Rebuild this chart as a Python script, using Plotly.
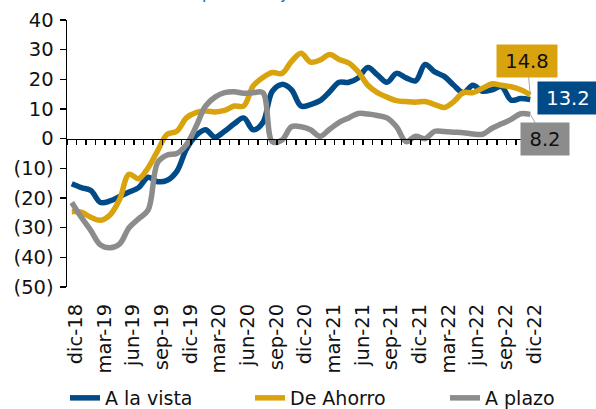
import plotly.graph_objects as go

months = [
    "dic-18", "ene-19", "feb-19", "mar-19", "abr-19", "may-19", "jun-19", "jul-19", "ago-19", "sep-19", "oct-19", "nov-19",
    "dic-19", "ene-20", "feb-20", "mar-20", "abr-20", "may-20", "jun-20", "jul-20", "ago-20", "sep-20", "oct-20", "nov-20",
    "dic-20", "ene-21", "feb-21", "mar-21", "abr-21", "may-21", "jun-21", "jul-21", "ago-21", "sep-21", "oct-21", "nov-21",
    "dic-21", "ene-22", "feb-22", "mar-22", "abr-22", "may-22", "jun-22", "jul-22", "ago-22", "sep-22", "oct-22", "nov-22",
    "dic-22",
]
tick_labels = ["dic-18", "mar-19", "jun-19", "sep-19", "dic-19", "mar-20", "jun-20", "sep-20", "dic-20",
               "mar-21", "jun-21", "sep-21", "dic-21", "mar-22", "jun-22", "sep-22", "dic-22"]

a_la_vista = [
    -15.2, -16.5, -17.5, -21.5, -21.0, -19.5, -18.0, -16.5, -13.0, -14.5, -14.0, -11.0,
    -3.5, 1.0, 3.0, 0.5, 2.5, 5.0, 7.0, 3.0, 5.4, 16.0, 18.3, 16.5,
    11.0, 11.5, 12.8, 15.8, 19.0, 19.0, 20.5, 24.0, 21.5, 19.0, 22.0, 20.5,
    19.5, 25.0, 22.5, 21.0, 18.0, 15.5, 18.0, 16.0, 16.5, 17.5, 13.0, 13.5,
    13.2,
]
de_ahorro = [
    -24.6, -24.8, -26.5, -27.5, -25.7, -20.5, -12.0, -13.5, -9.8, -4.0, 1.5, 2.5,
    7.0, 8.8, 9.3, 9.0, 9.5, 11.0, 11.0, 17.8, 20.6, 22.3, 22.0, 26.0,
    28.8, 25.8, 26.5, 28.4, 26.7, 25.5, 22.5, 18.0, 15.5, 14.0, 12.8, 12.5,
    12.3, 12.5, 11.5, 10.5, 12.5, 15.5, 15.5, 17.0, 18.5, 18.0, 17.5, 16.5,
    14.8,
]
a_plazo = [
    -21.5, -26.5, -31.0, -35.8, -36.8, -35.5, -30.0, -27.0, -24.0, -8.0, -5.5, -5.0,
    -2.0, 4.0, 11.0, 14.0, 15.5, 15.8, 15.3, 15.5, 15.5, -1.0, -0.5, 4.0,
    4.0, 3.0, 0.8, 3.2, 5.5, 7.0, 8.5, 8.3, 7.8, 7.0, 4.0, -1.0,
    0.8, 0.0, 2.5, 2.4, 2.2, 2.0, 1.6, 1.5, 3.5, 5.0, 6.5, 8.4,
    8.2,
]

y_ticks = [-50, -40, -30, -20, -10, 0, 10, 20, 30, 40]
y_ticktext = [f"({abs(v)})" if v < 0 else str(v) for v in y_ticks]

subtitle = "(Variación interanual, porcentaje)"

series = [
    ("A la vista", a_la_vista, "#004B87", "legend"),
    ("De Ahorro", de_ahorro, "#D9A30E", "legend2"),
    ("A plazo", a_plazo, "#8C8C8C", "legend3"),
]

FONT = "DejaVu Sans"
TXT = "#111111"
fig = go.Figure()
for name, vals, color, leg in series:
    fig.add_trace(go.Scatter(
        x=months, y=vals, name=name, mode="lines",
        line=dict(color=color, width=5.5, shape="spline", smoothing=1.0),
        legend=leg, hoverinfo="skip",
    ))

# invisible trace to carry the zero-line axis with monthly ticks
fig.add_trace(go.Scatter(x=months, y=a_la_vista, xaxis="x2", mode="lines",
                         line=dict(width=0, color="rgba(0,0,0,0)"), showlegend=False,
                         hoverinfo="skip"))

# subtitle, mostly above the visible page as in the reference crop
fig.add_annotation(xref="paper", yref="paper", x=(1 - 67) / 468, y=(287 - 4.0) / 267,
                   xanchor="left", yanchor="bottom", showarrow=False, text=subtitle,
                   font=dict(family=FONT, size=18, color="#2E74B5"))

# end labels
fig.add_annotation(x=months[-1], y=de_ahorro[-1], text=f"{de_ahorro[-1]:.1f}",
                   showarrow=True, arrowhead=0, arrowwidth=1, arrowcolor="#A6A6A6",
                   ax=-3, ay=-34, bgcolor="#D9A30E", width=58, height=30,
                   font=dict(family=FONT, size=19.5, color=TXT))
fig.add_annotation(x=months[-1], y=a_la_vista[-1], text=f"{a_la_vista[-1]:.1f}",
                   showarrow=False, xshift=38, yshift=2, bgcolor="#004B87", width=58, height=30,
                   font=dict(family=FONT, size=19.5, color="#FFFFFF"))
fig.add_annotation(x=months[-1], y=a_plazo[-1], text=f"{a_plazo[-1]:.1f}",
                   showarrow=True, arrowhead=0, arrowwidth=1, arrowcolor="#A6A6A6",
                   ax=15, ay=25, bgcolor="#8C8C8C", width=46, height=30,
                   font=dict(family=FONT, size=19.5, color=TXT))

legend_common = dict(orientation="h", yref="container", xref="container",
                     yanchor="middle", y=1 - 398 / 409, xanchor="left",
                     bgcolor="rgba(0,0,0,0)", font=dict(family=FONT, size=19, color=TXT),
                     itemwidth=30)

fig.update_layout(
    width=596, height=409,
    margin=dict(l=67, r=61, t=20, b=122, autoexpand=False),
    paper_bgcolor="white", plot_bgcolor="white",
    font=dict(family=FONT, size=19, color=TXT),
    legend=dict(x=65 / 596, **legend_common),
    legend2=dict(x=250 / 596, **legend_common),
    legend3=dict(x=445 / 596, **legend_common),
    xaxis=dict(type="category", categoryorder="array", categoryarray=months,
               range=[-0.5, len(months) - 0.5], automargin=False,
               tickmode="array", tickvals=tick_labels, ticktext=tick_labels,
               tickangle=-90, ticks="", showline=False, showgrid=False, zeroline=False,
               ticklabelstandoff=12, ticklabelshift=4,
               tickfont=dict(family=FONT, size=19.5, color=TXT)),
    xaxis2=dict(type="category", categoryorder="array", categoryarray=months,
                overlaying="x", anchor="free", position=50 / 90, automargin=False,
                range=[-0.5, len(months) - 0.5],
                showline=True, linecolor="#000000", linewidth=1.5,
                ticks="outside", tickson="boundaries", ticklen=5, tickwidth=1.5, tickcolor="#000000",
                dtick=1, showticklabels=False, showgrid=False, zeroline=False),
    yaxis=dict(range=[-50, 40], tickmode="array", tickvals=y_ticks, ticktext=y_ticktext,
               automargin=False,
               showline=True, linecolor="#000000", linewidth=1.5,
               ticks="outside", ticklen=6, tickwidth=1.5, tickcolor="#000000",
               showgrid=False, zeroline=False, ticklabelstandoff=2,
               tickfont=dict(family=FONT, size=19.5, color=TXT)),
)

fig.write_html("out.html", config={"displayModeBar": False, "staticPlot": True},
               post_script="document.body.style.margin='0';document.body.style.overflow='hidden';")
